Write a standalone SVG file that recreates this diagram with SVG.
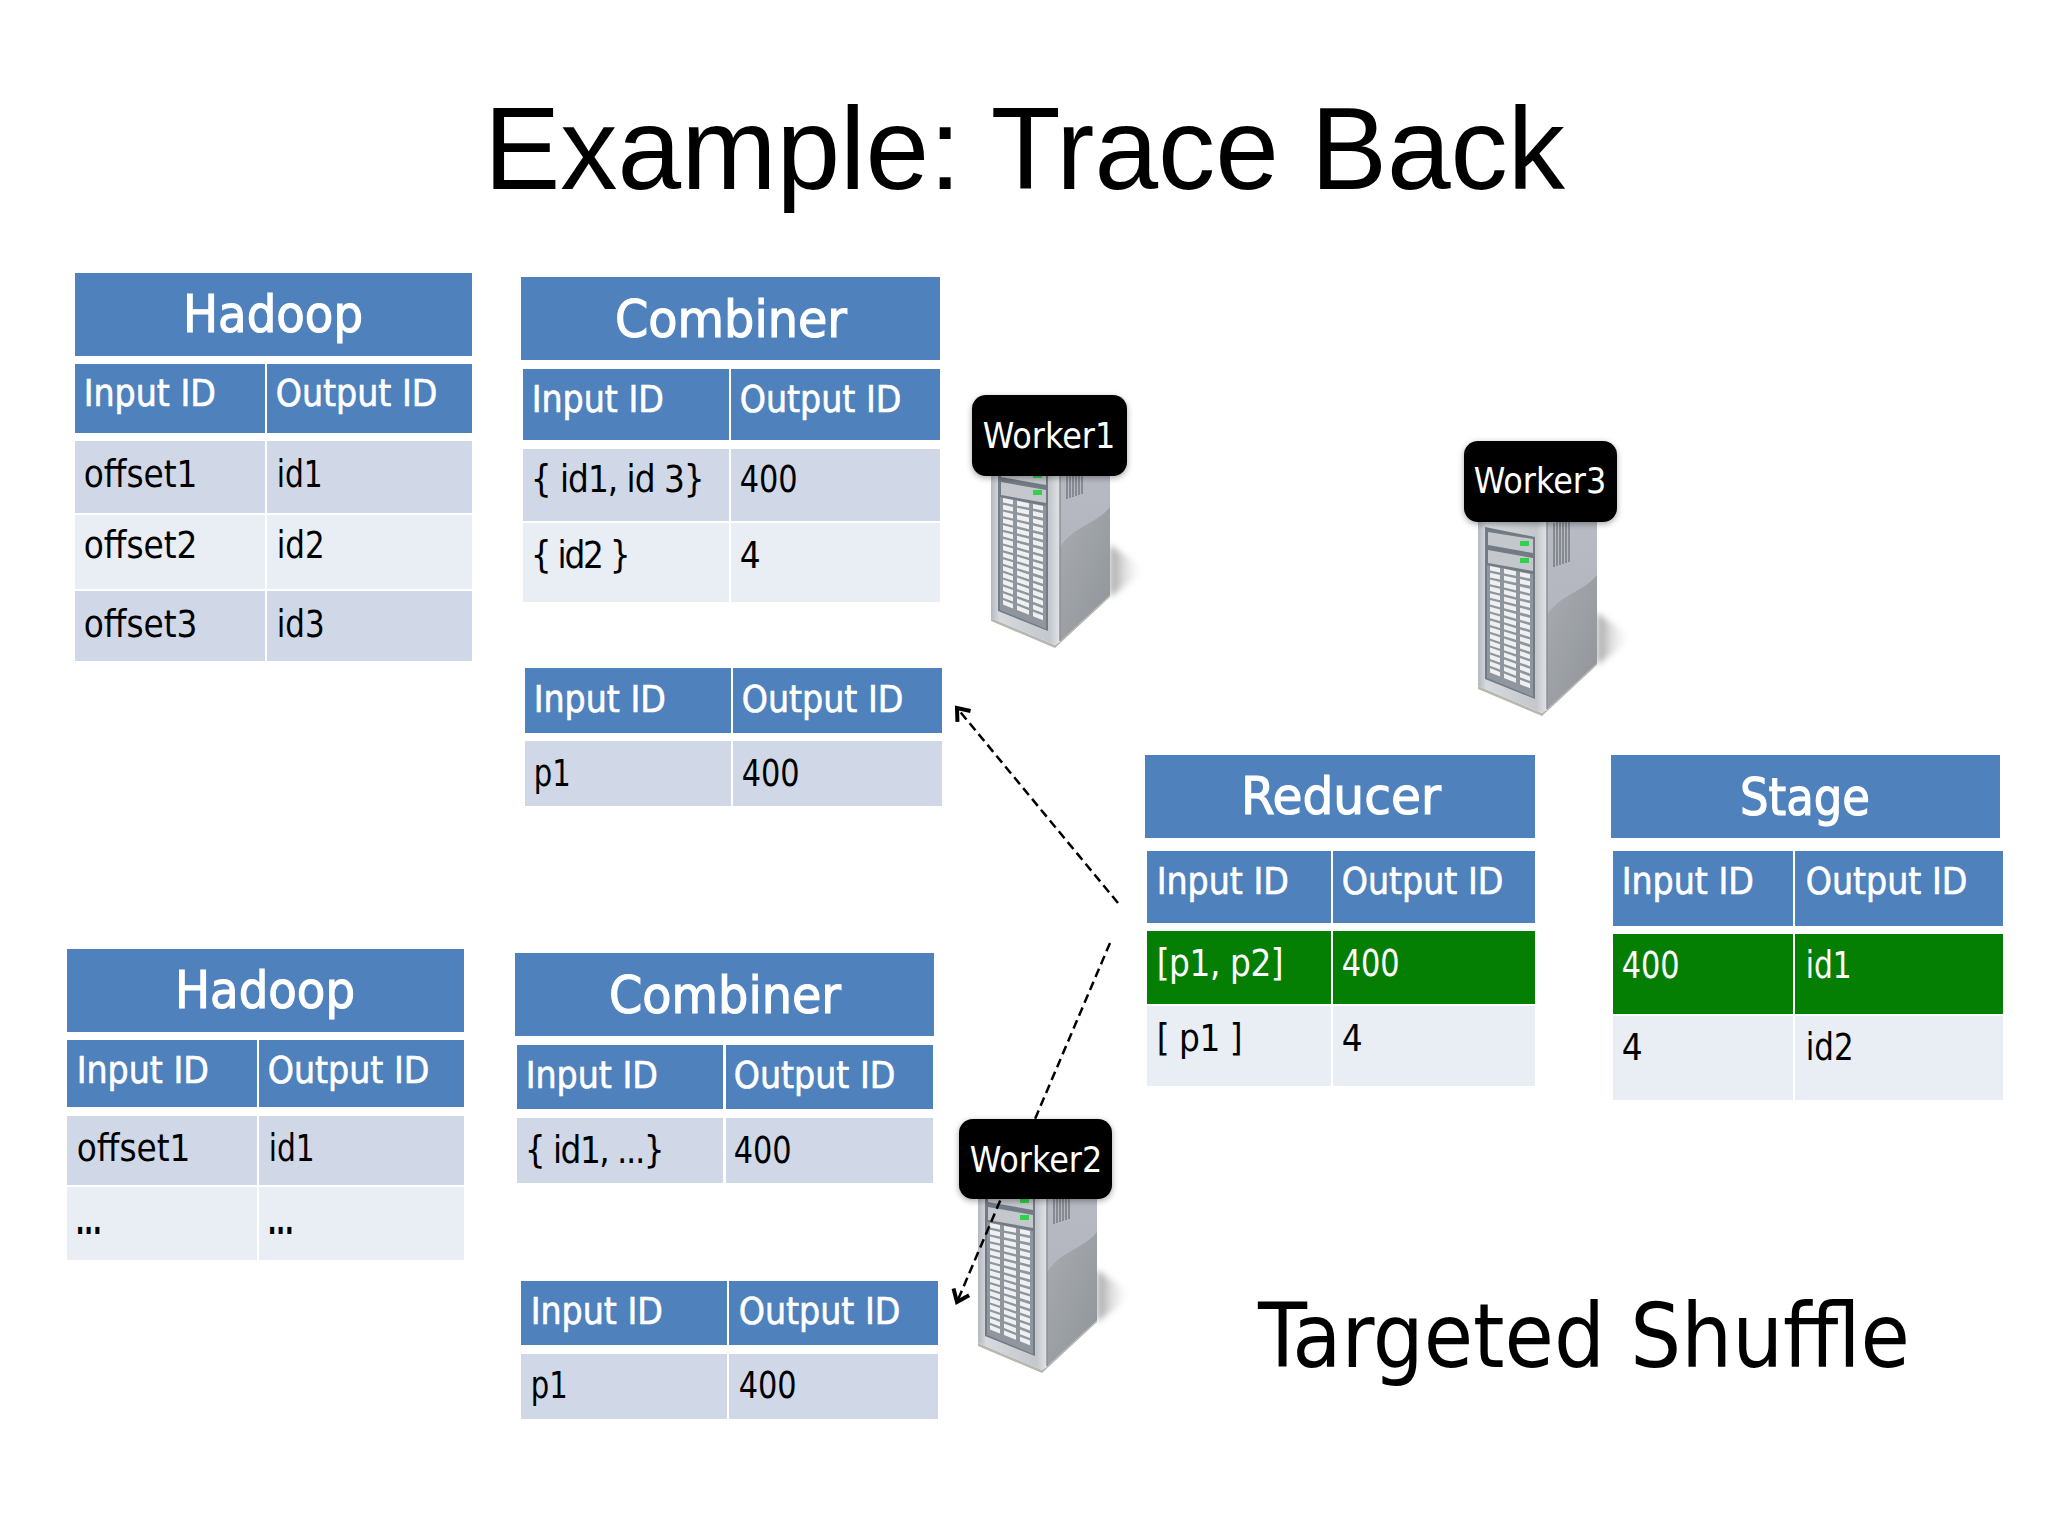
<svg xmlns="http://www.w3.org/2000/svg" xmlns:xlink="http://www.w3.org/1999/xlink" width="2048" height="1536" viewBox="0 0 2048 1536">
<style>
text{font-family:"DejaVu Sans Condensed","DejaVu Sans",sans-serif;font-stretch:condensed}
.h{fill:#4f81bd}.a{fill:#d0d8e8}.b{fill:#e9edf4}.g{fill:#047f04}
.ti{font-size:51px;fill:#fff;text-anchor:middle;stroke:#fff;stroke-width:1.1;transform:translateY(1px)}
.th{font-size:37px;fill:#fff;stroke:#fff;stroke-width:.6;transform:translate(.7px,1.400px)}
.td{font-size:36.5px;fill:#000;transform:translate(.7px,1.400px)}
.tg{font-size:36.5px;fill:#fff;transform:translate(.7px,1.400px)}
.lb{fill:#000;filter:url(#sh)}
.wt{font-size:35.5px;fill:#fff;text-anchor:middle}
.big{font-family:"Liberation Sans",Arial,sans-serif;font-size:116px;fill:#000;font-stretch:normal}
.sub{font-size:89px;fill:#000}
.dash{fill:none;stroke:#000;stroke-width:2.5;stroke-dasharray:9 5}
</style>
<defs>
<filter id="sh" x="-10%" y="-10%" width="120%" height="125%"><feDropShadow dx="0" dy="2" stdDeviation="3" flood-color="#000" flood-opacity=".35"/></filter>
<filter id="bl" x="-30%" y="-30%" width="160%" height="160%"><feGaussianBlur stdDeviation="3"/></filter>
<marker id="arr" markerUnits="userSpaceOnUse" markerWidth="26" markerHeight="26" refX="17" refY="13" orient="auto"><path d="M6 4.500L17 13L6 21.500" fill="none" stroke="#000" stroke-width="4"/></marker>
<linearGradient id="fr" x1="0" x2="1" y1="0" y2="0"><stop offset="0" stop-color="#b4b9c0"/><stop offset=".12" stop-color="#d6d9dd"/><stop offset=".85" stop-color="#c4c8cd"/><stop offset="1" stop-color="#e2e4e7"/></linearGradient>
<linearGradient id="sd" x1="0" x2="0" y1="0" y2="1"><stop offset="0" stop-color="#b8bbc3"/><stop offset="1" stop-color="#aeb2ba"/></linearGradient>
<linearGradient id="sl" x1="0" x2="1" y1="0" y2="1"><stop offset="0" stop-color="#a8acb1"/><stop offset="1" stop-color="#8f9499"/></linearGradient>
<linearGradient id="sw" x1="0" x2="1" y1="0" y2="0"><stop offset="0" stop-color="#a0a0a0"/><stop offset="1" stop-color="#fff" stop-opacity="0"/></linearGradient>
<g id="row"><rect x="0" y="0" width="10" height="4.600" fill="#eef0f2"/><rect x="14" y="0" width="12" height="4.600" fill="#eef0f2"/><rect x="30" y="0" width="10" height="4.600" fill="#eef0f2"/></g>
<g id="tower">
<path d="M1110 545L1146 570L1110 597Z" fill="url(#sw)" filter="url(#bl)"/>
<path d="M991 618L1055 645L1110 595L1110 597L1055 648L991 621Z" fill="#b8b8b0"/>
<path d="M991 445H1060V642L1055 645L991 618Z" fill="url(#fr)"/>
<path d="M1060 445H1110V595L1060 641Z" fill="url(#sd)"/>
<path d="M1060 547C1075 525 1095 525 1110 507V595L1060 641Z" fill="url(#sl)"/>
<path d="M1060 445V641" stroke="#8c9197" stroke-width="1.500"/>
<path d="M1067 455V499M1070 454V498M1073 453V497M1076 452V496M1079 451V495M1082 450V494" stroke="#6e7278" stroke-width="1.300"/>
<path d="M998 459L1048 469V631L998 611Z" fill="#727a84"/>
<path d="M1001 464L1046 471V485L1001 477Z" fill="#c4c7cc"/><path d="M1001 482L1046 490V503L1001 495Z" fill="#c4c7cc"/>
<rect x="1033" y="473" width="9" height="5" fill="#2fd24a"/><rect x="1033" y="490" width="9" height="5" fill="#2fd24a"/>
<path d="M1000 497L1046 506V629L1000 610Z" fill="#8f969e"/>
<use xlink:href="#row" transform="matrix(1 .2 0 1 1003 498)"/>
<use xlink:href="#row" transform="matrix(1 .21 0 1 1003 504.800)"/>
<use xlink:href="#row" transform="matrix(1 .23 0 1 1003 511.600)"/>
<use xlink:href="#row" transform="matrix(1 .24 0 1 1003 518.400)"/>
<use xlink:href="#row" transform="matrix(1 .25 0 1 1003 525.200)"/>
<use xlink:href="#row" transform="matrix(1 .26 0 1 1003 532)"/>
<use xlink:href="#row" transform="matrix(1 .28 0 1 1003 538.800)"/>
<use xlink:href="#row" transform="matrix(1 .29 0 1 1003 545.600)"/>
<use xlink:href="#row" transform="matrix(1 .3 0 1 1003 552.400)"/>
<use xlink:href="#row" transform="matrix(1 .31 0 1 1003 559.200)"/>
<use xlink:href="#row" transform="matrix(1 .33 0 1 1003 566)"/>
<use xlink:href="#row" transform="matrix(1 .34 0 1 1003 572.800)"/>
<use xlink:href="#row" transform="matrix(1 .35 0 1 1003 579.600)"/>
<use xlink:href="#row" transform="matrix(1 .36 0 1 1003 586.400)"/>
<use xlink:href="#row" transform="matrix(1 .38 0 1 1003 593.200)"/>
<use xlink:href="#row" transform="matrix(1 .39 0 1 1003 600)"/>
</g>
</defs>
<rect width="2048" height="1536" fill="#fff"/>
<text class="big" x="484" y="189" textLength="1081" lengthAdjust="spacingAndGlyphs">Example: Trace Back</text>
<text class="sub" x="1258" y="1367" textLength="652" lengthAdjust="spacingAndGlyphs">Targeted Shuffle</text>

<g id="hadoop1">
<rect class="h" x="75" y="273" width="397" height="83"/><text class="ti" x="273" y="331" textLength="180" lengthAdjust="spacingAndGlyphs">Hadoop</text>
<rect class="h" x="75" y="364" width="190" height="69"/><rect class="h" x="267" y="364" width="205" height="69"/>
<rect class="a" x="75" y="441" width="190" height="72"/><rect class="a" x="267" y="441" width="205" height="72"/>
<rect class="b" x="75" y="515" width="190" height="74"/><rect class="b" x="267" y="515" width="205" height="74"/>
<rect class="a" x="75" y="591" width="190" height="70"/><rect class="a" x="267" y="591" width="205" height="70"/>
<text class="th" x="83" y="405">Input ID</text><text class="th" x="275" y="405">Output ID</text>
<text class="td" x="83" y="486">offset1</text><text class="td" x="276" y="486" textLength="46" lengthAdjust="spacingAndGlyphs">id1</text>
<text class="td" x="83" y="557">offset2</text><text class="td" x="276" y="557" textLength="48" lengthAdjust="spacingAndGlyphs">id2</text>
<text class="td" x="83" y="636">offset3</text><text class="td" x="276" y="636" textLength="48" lengthAdjust="spacingAndGlyphs">id3</text>
</g>
<g id="combiner1">
<rect class="h" x="521" y="277" width="419" height="83"/><text class="ti" x="731" y="336" textLength="232" lengthAdjust="spacingAndGlyphs">Combiner</text>
<rect class="h" x="523" y="369" width="206" height="71"/><rect class="h" x="731" y="369" width="209" height="71"/>
<rect class="a" x="523" y="449" width="206" height="72"/><rect class="a" x="731" y="449" width="209" height="72"/>
<rect class="b" x="523" y="523" width="206" height="79"/><rect class="b" x="731" y="523" width="209" height="79"/>
<text class="th" x="531" y="411">Input ID</text><text class="th" x="739" y="411">Output ID</text>
<text class="td" x="530" y="491" textLength="174">{ id1, id 3}</text><text class="td" x="739" y="491" textLength="58" lengthAdjust="spacingAndGlyphs">400</text>
<text class="td" x="530" y="567" textLength="100">{ id2 }</text><text class="td" x="739" y="567">4</text>
</g>
<g id="partition1">
<rect class="h" x="525" y="668" width="206" height="65"/><rect class="h" x="733" y="668" width="209" height="65"/>
<rect class="a" x="525" y="741" width="206" height="65"/><rect class="a" x="733" y="741" width="209" height="65"/>
<text class="th" x="533" y="711">Input ID</text><text class="th" x="741" y="711">Output ID</text>
<text class="td" x="533" y="785" textLength="37" lengthAdjust="spacingAndGlyphs">p1</text><text class="td" x="741" y="785" textLength="58" lengthAdjust="spacingAndGlyphs">400</text>
</g>
<g id="hadoop2">
<rect class="h" x="67" y="949" width="397" height="83"/><text class="ti" x="265" y="1007" textLength="180" lengthAdjust="spacingAndGlyphs">Hadoop</text>
<rect class="h" x="67" y="1040" width="190" height="67"/><rect class="h" x="259" y="1040" width="205" height="67"/>
<rect class="a" x="67" y="1116" width="190" height="69"/><rect class="a" x="259" y="1116" width="205" height="69"/>
<rect class="b" x="67" y="1187" width="190" height="73"/><rect class="b" x="259" y="1187" width="205" height="73"/>
<text class="th" x="76" y="1082">Input ID</text><text class="th" x="267" y="1082">Output ID</text>
<text class="td" x="76" y="1160">offset1</text><text class="td" x="268" y="1160" textLength="46" lengthAdjust="spacingAndGlyphs">id1</text>
<text class="td" x="75" y="1233" font-weight="700" textLength="26" lengthAdjust="spacingAndGlyphs">...</text><text class="td" x="267" y="1233" font-weight="700" textLength="26" lengthAdjust="spacingAndGlyphs">...</text>
</g>
<g id="combiner2">
<rect class="h" x="515" y="953" width="419" height="83"/><text class="ti" x="725" y="1012" textLength="232" lengthAdjust="spacingAndGlyphs">Combiner</text>
<rect class="h" x="517" y="1045" width="206" height="64"/><rect class="h" x="726" y="1045" width="207" height="64"/>
<rect class="a" x="517" y="1118" width="206" height="65"/><rect class="a" x="726" y="1118" width="207" height="65"/>
<text class="th" x="525" y="1087">Input ID</text><text class="th" x="733" y="1087">Output ID</text>
<text class="td" x="524" y="1162" textLength="140">{ id1, ...}</text><text class="td" x="733" y="1162" textLength="58" lengthAdjust="spacingAndGlyphs">400</text>
</g>
<g id="partition2">
<rect class="h" x="521" y="1281" width="206" height="64"/><rect class="h" x="729" y="1281" width="209" height="64"/>
<rect class="a" x="521" y="1354" width="206" height="65"/><rect class="a" x="729" y="1354" width="209" height="65"/>
<text class="th" x="530" y="1323">Input ID</text><text class="th" x="738" y="1323">Output ID</text>
<text class="td" x="530" y="1397" textLength="37" lengthAdjust="spacingAndGlyphs">p1</text><text class="td" x="738" y="1397" textLength="58" lengthAdjust="spacingAndGlyphs">400</text>
</g>
<g id="reducer">
<rect class="h" x="1145" y="755" width="390" height="83"/><text class="ti" x="1341" y="813" textLength="200" lengthAdjust="spacingAndGlyphs">Reducer</text>
<rect class="h" x="1147" y="851" width="184" height="72"/><rect class="h" x="1333" y="851" width="202" height="72"/>
<rect class="g" x="1147" y="931" width="184" height="73"/><rect class="g" x="1333" y="931" width="202" height="73"/>
<rect class="b" x="1147" y="1006" width="184" height="80"/><rect class="b" x="1333" y="1006" width="202" height="80"/>
<text class="th" x="1156" y="893">Input ID</text><text class="th" x="1341" y="893">Output ID</text>
<text class="tg" x="1156" y="975" textLength="127">[p1, p2]</text><text class="tg" x="1341" y="975" textLength="58" lengthAdjust="spacingAndGlyphs">400</text>
<text class="td" x="1156" y="1050" textLength="86">[ p1 ]</text><text class="td" x="1341" y="1050">4</text>
</g>
<g id="stage">
<rect class="h" x="1611" y="755" width="389" height="83"/><text class="ti" x="1805" y="814" textLength="130" lengthAdjust="spacingAndGlyphs">Stage</text>
<rect class="h" x="1613" y="851" width="180" height="75"/><rect class="h" x="1795" y="851" width="208" height="75"/>
<rect class="g" x="1613" y="934" width="180" height="80"/><rect class="g" x="1795" y="934" width="208" height="80"/>
<rect class="b" x="1613" y="1016" width="180" height="84"/><rect class="b" x="1795" y="1016" width="208" height="84"/>
<text class="th" x="1621" y="893">Input ID</text><text class="th" x="1805" y="893">Output ID</text>
<text class="tg" x="1621" y="977" textLength="58" lengthAdjust="spacingAndGlyphs">400</text><text class="tg" x="1805" y="977" textLength="46" lengthAdjust="spacingAndGlyphs">id1</text>
<text class="td" x="1621" y="1059">4</text><text class="td" x="1805" y="1059" textLength="48" lengthAdjust="spacingAndGlyphs">id2</text>
</g>
<g id="servers">
<use xlink:href="#tower"/>
<use xlink:href="#tower" transform="translate(-13 725)"/>
<use xlink:href="#tower" transform="translate(487 68)"/>
</g>
<g id="connectors">
<path class="dash" d="M1118 903L957 708" marker-end="url(#arr)"/>
<path class="dash" d="M1110 943L957 1302" marker-end="url(#arr)"/>
</g>
<g id="worker1"><rect class="lb" x="972" y="395" width="155" height="81" rx="14"/><text class="wt" x="1049" y="448">Worker1</text></g>
<g id="worker2"><rect class="lb" x="959" y="1119" width="153" height="80" rx="14"/><text class="wt" x="1036" y="1172">Worker2</text></g>
<g id="worker3"><rect class="lb" x="1464" y="441" width="153" height="81" rx="14"/><text class="wt" x="1540" y="493">Worker3</text></g>
</svg>
